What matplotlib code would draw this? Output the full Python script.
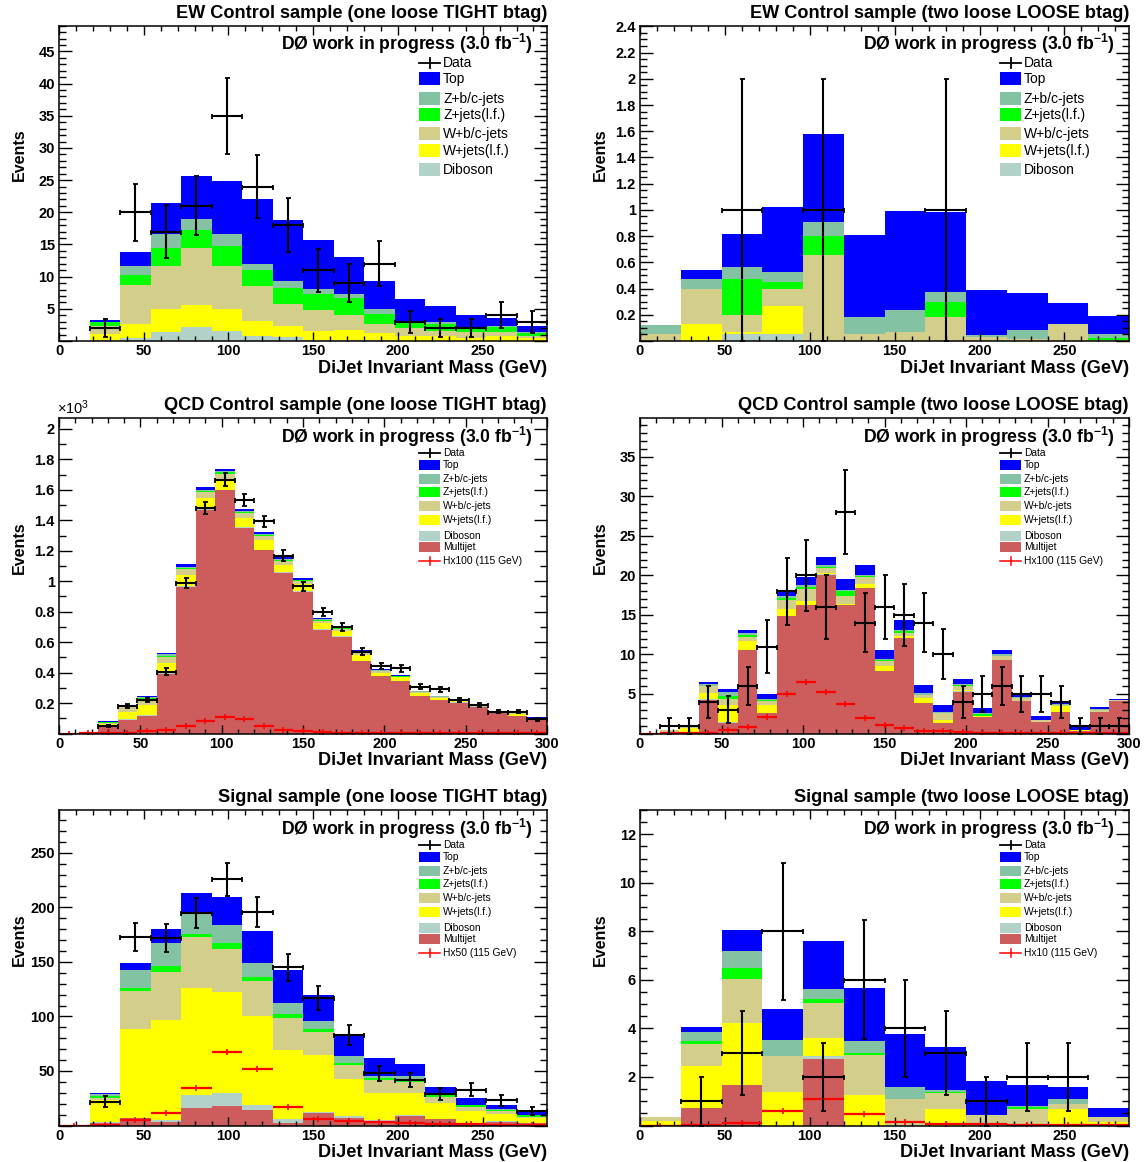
import numpy as np
import matplotlib
matplotlib.use("Agg")
import matplotlib.pyplot as plt
from matplotlib.patches import Rectangle
from matplotlib.lines import Line2D
from matplotlib.ticker import MultipleLocator, FuncFormatter

plt.rcParams['font.family'] = ['Liberation Sans', 'DejaVu Sans']
plt.rcParams['mathtext.fontset'] = 'custom'
plt.rcParams['mathtext.rm'] = 'Liberation Sans'
plt.rcParams['mathtext.bf'] = 'Liberation Sans:bold'
plt.rcParams['mathtext.it'] = 'Liberation Sans:italic'

# ---------------- data ----------------
EDGES_18 = np.arange(0, 289, 18)     # 16 bins
EDGES_24 = np.arange(0, 289, 24)     # 12 bins
EDGES_12 = np.arange(0, 301, 12)     # 25 bins

# EW control, one loose TIGHT btag
EW1_top = [0, 0.3, 2.15, 4.8, 6.7, 8.3, 10.1, 9.5, 7.6, 5.7, 4.35, 3.5, 2.5, 1.8, 1.3, 0.95]
EW1_zbc = [0, 0.1, 1.5, 2.1, 1.7, 1.9, 0.9, 1.0, 0.8, 0.6, 0.8, 0.2, 0.3, 0.2, 0.2, 0.15]
EW1_zlf = [0, 0.6, 1.5, 2.8, 2.8, 3.1, 2.4, 2.6, 2.5, 2.7, 1.6, 0.8, 1.0, 0.65, 0.65, 0.4]
EW1_wbc = [0, 1.2, 6.1, 6.7, 8.8, 6.6, 5.5, 3.3, 3.2, 2.3, 1.4, 1.2, 0.9, 0.85, 0.75, 0.35]
EW1_wlf = [0, 1.0, 2.2, 3.55, 3.4, 3.4, 2.4, 1.8, 1.4, 1.55, 1.1, 0.75, 0.65, 0.45, 0.65, 0.4]
EW1_dib = [0, 0.1, 0.4, 1.45, 2.2, 1.6, 0.7, 0.6, 0.2, 0.15, 0.1, 0.05, 0.05, 0.05, 0.05, 0.05]
EW1_data = [0, 2, 20, 17, 21, 35, 24, 18, 11, 9, 12, 3, 2, 2, 4, 3]

# EW control, two loose LOOSE btag
EW2_top = [0, 0.07, 0.25, 0.495, 0.67, 0.62, 0.75, 0.61, 0.345, 0.284, 0.16, 0.137]
EW2_zbc = [0.07, 0.075, 0.09, 0.08, 0.11, 0.135, 0.17, 0.076, 0.017, 0.067, 0.0, 0.033]
EW2_zlf = [0, 0, 0.275, 0.05, 0.145, 0, 0, 0.116, 0, 0, 0, 0.014]
EW2_wbc = [0.05, 0.27, 0.13, 0.135, 0.65, 0.05, 0.07, 0.184, 0.03, 0.015, 0.133, 0.01]
EW2_wlf = [0, 0.13, 0.02, 0.215, 0, 0, 0, 0, 0, 0, 0, 0]
EW2_dib = [0, 0, 0.05, 0.05, 0.005, 0, 0, 0, 0, 0, 0, 0]
EW2_data = [0, 0, 1, 0, 1, 0, 0, 1, 0, 0, 0, 0]

# QCD control, one loose TIGHT btag
QCD1_mj = [0, 5, 50, 89, 117, 391, 960, 1466, 1596, 1352, 1203, 1054, 931, 681, 635, 475,
           376, 346, 247, 220, 203, 177, 137, 115, 89]
QCD1_dib = [0, 0.5, 2, 3, 4, 5, 8, 8, 6, 5, 5, 4, 4, 3, 3, 3, 2, 2, 2, 1, 1, 1, 1, 1, 1]
QCD1_wlf = [0, 3, 12, 52, 67, 70, 75, 75, 70, 60, 60, 50, 45, 40, 35, 35, 22, 20, 17, 13, 12, 8, 5, 15, 9]
QCD1_wbc = [0, 2, 8, 33, 40, 35, 35, 35, 35, 30, 28, 25, 20, 15, 12, 15, 8, 6, 6, 5, 5, 3, 2, 5, 3]
QCD1_zlf = [0, 0.5, 2, 4, 6, 10, 10, 10, 10, 8, 8, 8, 6, 5, 5, 5, 3, 3, 2, 2, 2, 1, 1, 2, 1]
QCD1_zbc = [0, 0.5, 2, 2, 5, 8, 8, 8, 8, 7, 7, 6, 5, 5, 4, 5, 3, 2, 2, 2, 2, 1, 0.5, 2, 1]
QCD1_top = [0, 1, 3, 5, 8, 12, 14, 15, 14, 13, 13, 17, 12, 11, 9, 11, 8, 6, 6, 4, 4, 3, 1.5, 4, 2]
QCD1_data = [0, 0, 49, 183, 220, 407, 988, 1481, 1668, 1536, 1394, 1168, 966, 799, 698, 538,
             444, 427, 308, 291, 220, 188, 144, 144, 93]
QCD1_higgs = [0, 3, 4, 5, 14, 23, 49, 82, 110, 93, 52, 23, 14, 8, 6, 5, 4, 3, 3, 2, 2, 2, 1, 1, 1]

# QCD control, two loose LOOSE btag
QCD2_mj = [0, 0, 0.05, 4.25, 1.35, 10.5, 2.6, 14.8, 16.2, 20.1, 16.2, 18.4, 7.85, 12.05, 3.8, 1.3,
           5.3, 2.1, 9.3, 4.05, 1.5, 2.7, 0.3, 2.75, 4.15]
QCD2_dib = [0, 0, 0, 0.05, 0.05, 0.1, 0.05, 0.1, 0.05, 0.05, 0.05, 0.05, 0.05, 0.05, 0.05, 0.05,
            0.05, 0, 0, 0, 0, 0, 0, 0, 0]
QCD2_wlf = [0, 0.25, 0.6, 0.8, 2.2, 1.05, 0.9, 0.9, 0.55, 0.1, 0.15, 0.45, 0.6, 0.2, 0.65, 0.4,
            0.1, 0.05, 0.05, 0.1, 0, 0.8, 0.1, 0, 0]
QCD2_wbc = [0, 0.15, 0.15, 0.85, 0.75, 0.6, 0.6, 1.1, 1.5, 0.65, 1.05, 0.85, 0.65, 0.45, 0.35, 0.9,
            0.6, 0.1, 0.4, 0.3, 0.15, 0.15, 0.1, 0.25, 0.1]
QCD2_zlf = [0, 0, 0, 0.1, 0.45, 0.15, 0.05, 0.2, 0.2, 0.2, 0.6, 0.2, 0.1, 0.25, 0.05, 0,
            0.05, 0.25, 0.1, 0.05, 0, 0, 0, 0, 0]
QCD2_zbc = [0, 0, 0, 0.2, 0.4, 0.3, 0.2, 0.3, 0.25, 0.2, 0.15, 0.1, 0.2, 0.15, 0.2, 0.1,
            0.1, 0.05, 0.2, 0.1, 0.1, 0.05, 0, 0.1, 0]
QCD2_top = [0, 0, 0, 0.3, 0.45, 0.4, 0.6, 0.7, 1.05, 1.05, 1.3, 1.2, 1.15, 1.25, 1.0, 0.85,
            0.75, 0.65, 0.55, 0.4, 0.4, 0.35, 0.28, 0.2, 0.13]
QCD2_data = [0, 1, 1, 4, 3, 6, 11, 18, 20, 16, 28, 14, 16, 15, 14, 10, 4, 5, 6, 5, 5, 4, 1, 1, 1]
QCD2_higgs = [0, 0.05, 0.1, 0.1, 0.45, 0.78, 2.14, 5.0, 6.5, 5.2, 3.7, 1.9, 1.1, 0.65, 0.3, 0.35,
              0.25, 0.12, 0.1, 0.08, 0.08, 0.05, 0.05, 0.05, 0.05]

# Signal sample, one loose TIGHT btag
SIG1_mj = [0, 2.5, 6.5, 3, 16.4, 17.9, 14.2, 2, 11.2, 6.6, 3.5, 9, 5.7, 2, 3.5, 2]
SIG1_dib = [0, 0.5, 0.5, 2, 11.6, 11.6, 4.3, 3.7, 1.5, 2.1, 1.5, 0.5, 0.5, 0.5, 0.5, 0.3]
SIG1_wlf = [0, 20, 81.2, 91.8, 98.4, 93.3, 82.3, 63.6, 52, 33.7, 24.5, 20, 14.1, 11.1, 6.6, 4.3]
SIG1_wbc = [0, 2.5, 35.5, 44.3, 46.8, 39.4, 32.1, 29.6, 21.4, 13.1, 12.2, 10.4, 6.2, 3.7, 3, 1]
SIG1_zlf = [0, 1.5, 2.1, 5.2, 2.2, 5.5, 3, 3.4, 2.1, 2.1, 2.2, 2, 1.5, 1.2, 0.6, 2]
SIG1_zbc = [0, 2, 16.9, 20.7, 18.6, 16.3, 12.9, 10.1, 8, 6.2, 1.8, 3.5, 1.5, 0.3, 0.7, 0.4]
SIG1_top = [0, 1, 6.3, 13.6, 19.6, 25.3, 29.3, 30.3, 23.5, 19.2, 16.2, 11, 6.1, 6.7, 3.9, 3.6]
SIG1_data = [0, 22, 173, 172, 195, 226, 196, 145, 117, 83, 48, 42, 29, 33, 23, 13]
SIG1_higgs = [0, 0.5, 5, 11.8, 34.1, 67.1, 51.8, 16.7, 6, 4.4, 2.9, 2, 1.4, 1.4, 0.8, 0.5]

# Signal sample, two loose LOOSE btag
SIG2_mj = [0, 0.73, 1.67, 0, 2.74, 0, 0, 0, 0, 0, 0, 0]
SIG2_dib = [0, 0, 0, 0, 0.12, 0, 0, 0, 0, 0, 0, 0]
SIG2_wlf = [0.2, 1.72, 2.56, 1.39, 0.73, 1.26, 0, 0.67, 0, 0, 0.67, 0.16]
SIG2_wbc = [0.14, 0.92, 1.8, 1.47, 1.44, 1.64, 1.1, 0.65, 0.43, 0.67, 0.21, 0.2]
SIG2_zlf = [0, 0.11, 0.47, 0, 0.18, 0.07, 0, 0.04, 0, 0.08, 0, 0]
SIG2_zbc = [0, 0.38, 0.68, 0.66, 0.41, 0.51, 0.47, 0.1, 0, 0.05, 0.2, 0]
SIG2_top = [0, 0.21, 0.89, 1.3, 1.97, 2.19, 2.22, 1.76, 1.42, 0.87, 0.49, 0.35]
SIG2_data = [0, 1, 3, 8, 2, 6, 4, 3, 1, 2, 2, 0]
SIG2_higgs = [0, 0.02, 0.12, 0.61, 1.08, 0.47, 0.14, 0.06, 0.05, 0.03, 0.03, 0.02]

TITLES = ["EW Control sample (one loose TIGHT btag)", "EW Control sample (two loose LOOSE btag)",
          "QCD Control sample (one loose TIGHT btag)", "QCD Control sample (two loose LOOSE btag)",
          "Signal sample (one loose TIGHT btag)", "Signal sample (two loose LOOSE btag)"]
HIGGS_LABELS = [None, None, "Hx100 (115 GeV)", "Hx100 (115 GeV)", "Hx50 (115 GeV)", "Hx10 (115 GeV)"]
LEG_NAMES = ["Top", "Z+b/c-jets", "Z+jets(l.f.)", "W+b/c-jets", "W+jets(l.f.)", "Diboson", "Multijet"]

# ---------------- style ----------------
C_TOP = "#0000ff"
C_ZBC = "#84c2a4"
C_ZLF = "#00ff00"
C_WBC = "#d3cf8a"
C_WLF = "#ffff00"
C_DIB = "#b2d1c8"
C_MJ = "#cd5c5c"
LEG_COLORS = [C_TOP, C_ZBC, C_ZLF, C_WBC, C_WLF, C_DIB, C_MJ]

W, H = 1147, 1162
fig = plt.figure(figsize=(W / 100, H / 100), dpi=100)
renderer = fig.canvas.get_renderer()

def fx(x):
    return x / W

def fy(y):
    return 1 - y / H

def fit_width(t, target):
    w = t.get_window_extent(renderer).width
    t.set_fontsize(t.get_fontsize() * target / w)

# layout in pixels (left, top, right, bottom)
RECTS = [(59, 25.7, 547, 341), (640, 25.7, 1129, 341),
         (59, 418, 547, 733.5), (640, 418, 1129, 733.5),
         (59, 810, 547, 1125.5), (640, 810, 1129, 1125.5)]

PANELS = [
    dict(edges=EDGES_18, mj=None, dib=EW1_dib, wlf=EW1_wlf, wbc=EW1_wbc, zlf=EW1_zlf, zbc=EW1_zbc,
         top=EW1_top, data=EW1_data, higgs=None, xmax=288, ymax=49.0, ymaj=5, ymin=1, xlab_max=250),
    dict(edges=EDGES_24, mj=None, dib=EW2_dib, wlf=EW2_wlf, wbc=EW2_wbc, zlf=EW2_zlf, zbc=EW2_zbc,
         top=EW2_top, data=EW2_data, higgs=None, xmax=288, ymax=2.405, ymaj=0.2, ymin=0.05, xlab_max=250),
    dict(edges=EDGES_12, mj=QCD1_mj, dib=QCD1_dib, wlf=QCD1_wlf, wbc=QCD1_wbc, zlf=QCD1_zlf,
         zbc=QCD1_zbc, top=QCD1_top, data=QCD1_data, higgs=QCD1_higgs, xmax=300, ymax=2072,
         ymaj=200, ymin=100, xlab_max=300),
    dict(edges=EDGES_12, mj=QCD2_mj, dib=QCD2_dib, wlf=QCD2_wlf, wbc=QCD2_wbc, zlf=QCD2_zlf,
         zbc=QCD2_zbc, top=QCD2_top, data=QCD2_data, higgs=QCD2_higgs, xmax=300, ymax=39.9,
         ymaj=5, ymin=1, xlab_max=300),
    dict(edges=EDGES_18, mj=SIG1_mj, dib=SIG1_dib, wlf=SIG1_wlf, wbc=SIG1_wbc, zlf=SIG1_zlf,
         zbc=SIG1_zbc, top=SIG1_top, data=SIG1_data, higgs=SIG1_higgs, xmax=288, ymax=289.4,
         ymaj=50, ymin=10, xlab_max=250),
    dict(edges=EDGES_24, mj=SIG2_mj, dib=SIG2_dib, wlf=SIG2_wlf, wbc=SIG2_wbc, zlf=SIG2_zlf,
         zbc=SIG2_zbc, top=SIG2_top, data=SIG2_data, higgs=SIG2_higgs, xmax=288, ymax=13.0,
         ymaj=2, ymin=0.5, xlab_max=250),
]

TICK_FS = 10.5

for i, (p, rect) in enumerate(zip(PANELS, RECTS)):
    l, t, r, b = rect
    ax = fig.add_axes([fx(l), fy(b), (r - l) / W, (b - t) / H])
    edges = np.asarray(p['edges'], float)
    centers = 0.5 * (edges[:-1] + edges[1:])
    half = 0.5 * np.diff(edges)

    comps = []
    if p['mj'] is not None:
        comps.append((p['mj'], C_MJ))
    comps += [(p['dib'], C_DIB), (p['wlf'], C_WLF), (p['wbc'], C_WBC),
              (p['zlf'], C_ZLF), (p['zbc'], C_ZBC), (p['top'], C_TOP)]
    base = np.zeros(len(edges) - 1)
    for vals, col in comps:
        vals = np.asarray(vals, float)
        ax.stairs(base + vals, edges, baseline=base.copy(), fill=True, color=col, lw=0)
        base = base + vals

    if p['higgs'] is not None:
        hv = np.asarray(p['higgs'], float)
        ax.errorbar(centers, hv, xerr=half, fmt='none', ecolor='#ff0000', elinewidth=1.6, capsize=0)
        ax.plot(centers, hv, ls='none', marker='|', ms=4, mew=1.2, color='#ff0000')

    d = np.asarray(p['data'], float)
    m = d > 0
    ax.errorbar(centers[m], d[m], xerr=half[m], yerr=np.sqrt(d[m]), fmt='none', ecolor='black',
                elinewidth=1.5, capsize=1.8, capthick=1.3)

    ax.set_xlim(0, p['xmax'])
    ax.set_ylim(0, p['ymax'])
    ax.xaxis.set_major_locator(MultipleLocator(50))
    ax.xaxis.set_minor_locator(MultipleLocator(10))
    ax.yaxis.set_major_locator(MultipleLocator(p['ymaj']))
    ax.yaxis.set_minor_locator(MultipleLocator(p['ymin']))
    xm = p['xlab_max']
    ax.xaxis.set_major_formatter(FuncFormatter(lambda v, pos, xm=xm: f"{v:g}" if v <= xm + 1e-6 else ""))
    if i == 2:
        ax.yaxis.set_major_formatter(FuncFormatter(lambda v, pos: "" if abs(v) < 1e-9 else f"{v/1000:g}"))
    else:
        ax.yaxis.set_major_formatter(FuncFormatter(lambda v, pos: "" if abs(v) < 1e-9 else f"{round(v, 3):g}"))
    ax.tick_params(which='both', direction='in', top=True, right=True, labelsize=TICK_FS, width=1.0)
    ax.tick_params(axis='x', which='major', length=6.5, pad=2.5)
    ax.tick_params(axis='x', which='minor', length=3.3)
    ax.tick_params(axis='y', which='major', length=9.3, pad=3)
    ax.tick_params(axis='y', which='minor', length=4.7)
    for lab in ax.get_xticklabels() + ax.get_yticklabels():
        lab.set_fontweight('bold')
    for s in ax.spines.values():
        s.set_linewidth(1.1)

    # title
    tt = fig.text(fx(r), fy(t - 12.7), TITLES[i], ha='right', va='center', fontsize=12, fontweight='bold')
    fit_width(tt, [369, 378, 381, 389, 326, 334][i])
    # DZero label
    dz = fig.text(fx(r - 14), fy(t + 18.5), r"DØ work in progress (3.0 fb$^{\mathbf{-1}}$)",
                  ha='right', va='center', fontsize=12, fontweight='bold')
    fit_width(dz, 251)
    # axis labels
    xl = fig.text(fx(r), fy(b + 27), "DiJet Invariant Mass (GeV)", ha='right', va='center',
                  fontsize=12, fontweight='bold')
    fit_width(xl, 228)
    fig.text(fx(l - 40), fy(b - 0.59 * (b - t)), "Events", rotation=90, ha='center', va='center',
             fontsize=11.5, fontweight='bold')
    if i == 2:
        fig.text(fx(l - 2), fy(t - 1), r"×10$^{3}$", ha='left', va='bottom', fontsize=10.5)

    # legend
    xb = l + 360
    xtext = xb + 24
    if i < 2:
        offs = [37, 53, 73, 89, 108, 125, 144]
        bh, fs = 13, 10
        names = LEG_NAMES[:6]
        colors = LEG_COLORS[:6]
    else:
        offs = [35, 47, 61, 74, 88, 102, 118, 129, 143]
        bh, fs = 10, 7.4
        names = LEG_NAMES
        colors = LEG_COLORS
    bw = 21
    # Data entry
    y0 = t + offs[0]
    fig.add_artist(Line2D([fx(xb), fx(xb + bw)], [fy(y0), fy(y0)], transform=fig.transFigure,
                          color='black', lw=1.3))
    fig.add_artist(Line2D([fx(xb + bw / 2), fx(xb + bw / 2)], [fy(y0 - bh * 0.38), fy(y0 + bh * 0.38)],
                          transform=fig.transFigure, color='black', lw=1.3))
    fig.text(fx(xtext), fy(y0), "Data", ha='left', va='center', fontsize=fs)
    for k, (nm, col) in enumerate(zip(names, colors)):
        yc = t + offs[k + 1]
        fig.add_artist(Rectangle((fx(xb), fy(yc + bh / 2)), bw / W, bh / H, transform=fig.transFigure,
                                 facecolor=col, edgecolor='none'))
        fig.text(fx(xtext), fy(yc), nm, ha='left', va='center', fontsize=fs)
    if HIGGS_LABELS[i] is not None:
        yc = t + offs[-1]
        fig.add_artist(Line2D([fx(xb), fx(xb + bw)], [fy(yc), fy(yc)], transform=fig.transFigure,
                              color='#ff0000', lw=1.1))
        fig.add_artist(Line2D([fx(xb + bw / 2), fx(xb + bw / 2)], [fy(yc - 4), fy(yc + 4)],
                              transform=fig.transFigure, color='#ff0000', lw=1.1))
        fig.text(fx(xtext), fy(yc), HIGGS_LABELS[i], ha='left', va='center', fontsize=fs)

fig.savefig("out.png", dpi=100)
